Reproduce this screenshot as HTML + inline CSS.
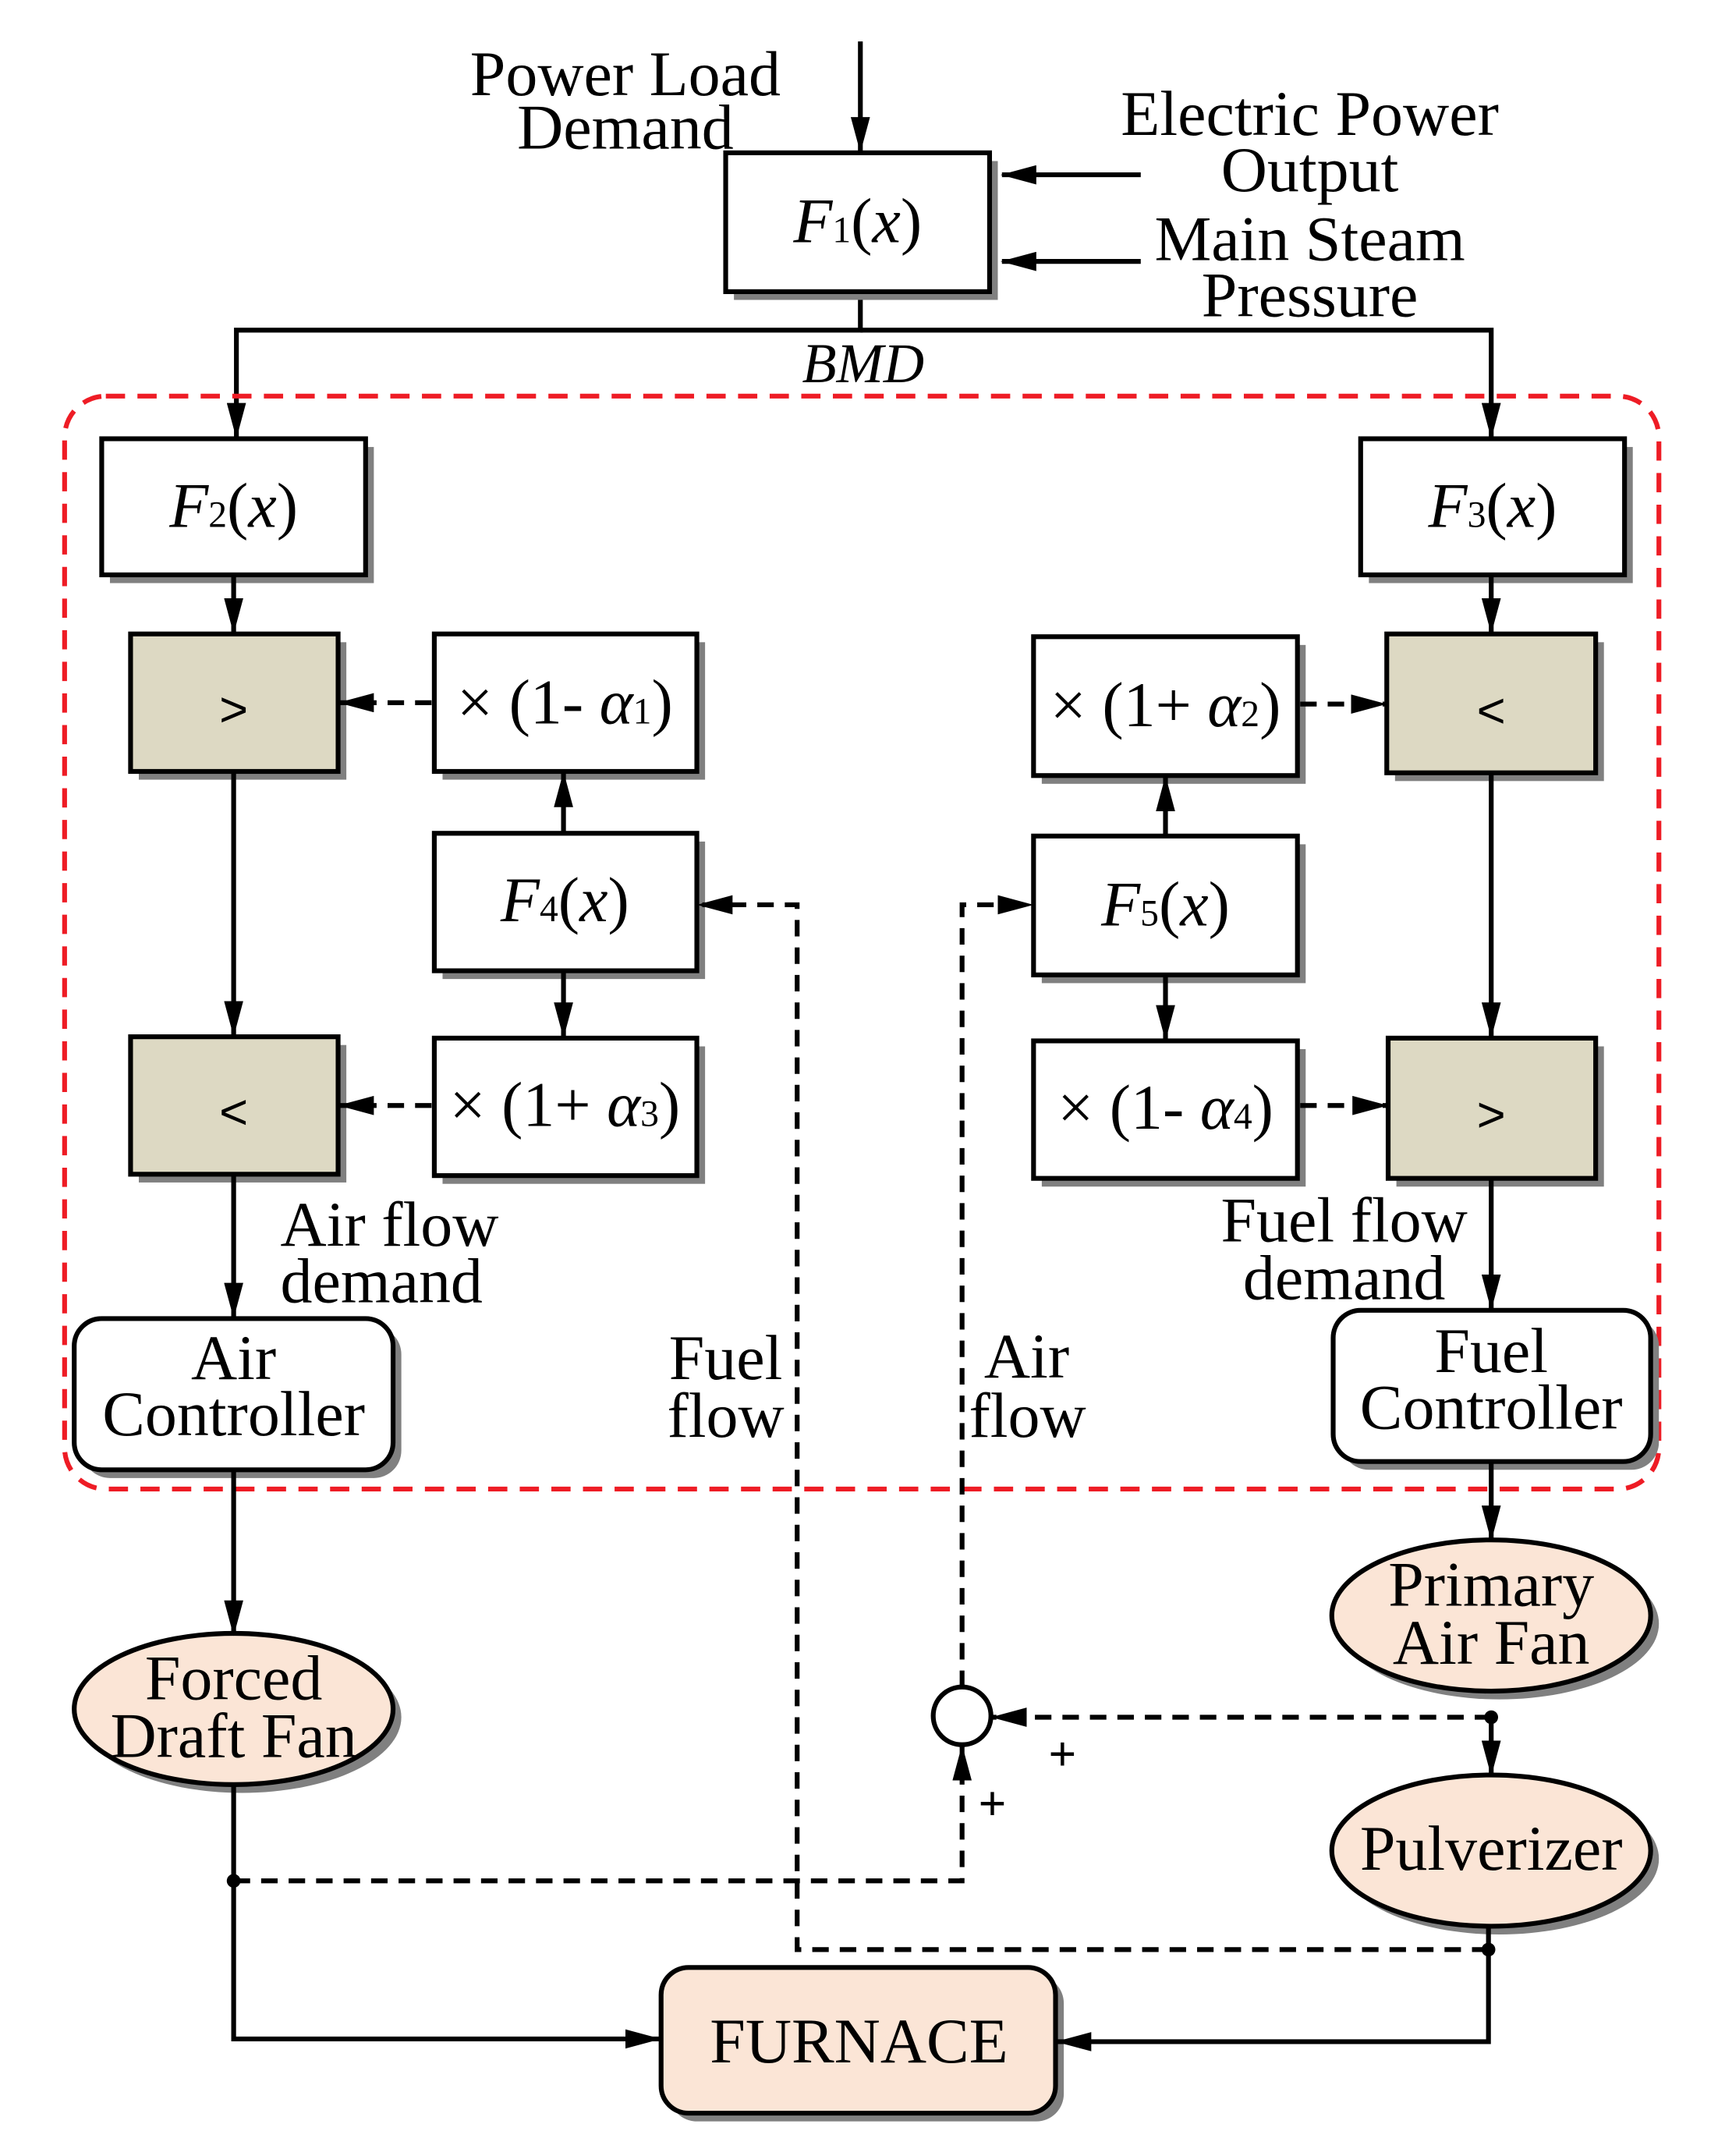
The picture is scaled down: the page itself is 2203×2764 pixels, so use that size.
<!DOCTYPE html>
<html><head><meta charset="utf-8"><style>html,body{margin:0;padding:0;background:#fff}svg{display:block}</style></head><body>
<svg width="2203" height="2764" viewBox="0 0 1250 1568" xmlns="http://www.w3.org/2000/svg" font-family="'Liberation Serif', serif">
<defs>
<marker id="b" markerWidth="26" markerHeight="14" refX="25" refY="7" orient="auto" markerUnits="userSpaceOnUse"><path d="M0,0 L26,7 L0,14 Z" fill="#000"/></marker>
</defs>
<g stroke="#000" stroke-width="3.5" fill="none">
<line x1="626" y1="30" x2="626" y2="110" marker-end="url(#b)"/>
<line x1="830" y1="127" x2="729" y2="127" marker-end="url(#b)"/>
<line x1="830" y1="190" x2="729" y2="190" marker-end="url(#b)"/>
<polyline points="626,212 626,240 172,240 172,318" marker-end="url(#b)"/>
<polyline points="626,240 1085,240 1085,318" marker-end="url(#b)"/>
</g>
<rect x="47" y="288" width="1160" height="795" rx="30" fill="none" stroke="#ee1c25" stroke-width="3.5" stroke-dasharray="14,9"/>
<g fill="#808080">
<rect x="534" y="117" width="192" height="101"/>
<rect x="80" y="325" width="192" height="99"/><rect x="996" y="325" width="192" height="99"/>
<rect x="101" y="467" width="151" height="100"/><rect x="101" y="760" width="151" height="100"/>
<rect x="1015" y="467" width="152" height="101"/><rect x="1016" y="761" width="151" height="102"/>
<rect x="322" y="467" width="191" height="100"/><rect x="322" y="612" width="191" height="100"/><rect x="322" y="761" width="191" height="100"/>
<rect x="758" y="469" width="192" height="101"/><rect x="758" y="614" width="192" height="101"/><rect x="758" y="763" width="192" height="100"/>
<rect x="60" y="965" width="232" height="110" rx="20"/><rect x="976" y="959" width="231" height="110" rx="20"/>
<ellipse cx="176" cy="1249" rx="116" ry="55"/><ellipse cx="1091" cy="1181" rx="116" ry="55"/><ellipse cx="1091" cy="1352" rx="116" ry="55"/>
<rect x="487" y="1437" width="287" height="106" rx="20"/>
</g>
<g stroke="#000" stroke-width="3.5" fill="#fff">
<rect x="528" y="111" width="192" height="101"/>
<rect x="74" y="319" width="192" height="99"/><rect x="990" y="319" width="192" height="99"/>
<rect x="316" y="461" width="191" height="100"/><rect x="316" y="606" width="191" height="100"/><rect x="316" y="755" width="191" height="100"/>
<rect x="752" y="463" width="192" height="101"/><rect x="752" y="608" width="192" height="101"/><rect x="752" y="757" width="192" height="100"/>
<rect x="54" y="959" width="232" height="110" rx="20"/><rect x="970" y="953" width="231" height="110" rx="20"/>
</g>
<g stroke="#000" stroke-width="3.5" fill="#ddd9c3">
<rect x="95" y="461" width="151" height="100"/><rect x="95" y="754" width="151" height="100"/>
<rect x="1009" y="461" width="152" height="101"/><rect x="1010" y="755" width="151" height="102"/>
</g>
<g stroke="#000" stroke-width="3.5" fill="#fbe5d6">
<ellipse cx="170" cy="1243" rx="116" ry="55"/><ellipse cx="1085" cy="1175" rx="116" ry="55"/><ellipse cx="1085" cy="1346" rx="116" ry="55"/>
<rect x="481" y="1431" width="287" height="106" rx="20"/>
</g>
<g stroke="#000" stroke-width="3.5" fill="none">
<line x1="170" y1="418" x2="170" y2="460" marker-end="url(#b)"/>
<line x1="170" y1="561" x2="170" y2="753" marker-end="url(#b)"/>
<line x1="170" y1="854" x2="170" y2="958" marker-end="url(#b)"/>
<line x1="1085" y1="418" x2="1085" y2="460" marker-end="url(#b)"/>
<line x1="1085" y1="562" x2="1085" y2="754" marker-end="url(#b)"/>
<line x1="1085" y1="857" x2="1085" y2="952" marker-end="url(#b)"/>
<line x1="410" y1="606" x2="410" y2="562" marker-end="url(#b)"/>
<line x1="410" y1="706" x2="410" y2="754" marker-end="url(#b)"/>
<line x1="848" y1="608" x2="848" y2="565" marker-end="url(#b)"/>
<line x1="848" y1="709" x2="848" y2="756" marker-end="url(#b)"/>
<line x1="170" y1="1069" x2="170" y2="1189" marker-end="url(#b)"/>
<line x1="1085" y1="1063" x2="1085" y2="1120" marker-end="url(#b)"/>
<line x1="1085" y1="1249" x2="1085" y2="1291" marker-end="url(#b)"/>
<polyline points="170,1298 170,1483 480,1483" marker-end="url(#b)"/>
<polyline points="1083,1401 1083,1485 769,1485" marker-end="url(#b)"/>
<g stroke-dasharray="12,8">
<line x1="314" y1="511" x2="247" y2="511" marker-end="url(#b)"/>
<line x1="314" y1="804" x2="247" y2="804" marker-end="url(#b)"/>
<line x1="946" y1="512" x2="1008" y2="512" marker-end="url(#b)"/>
<line x1="946" y1="804" x2="1009" y2="804" marker-end="url(#b)"/>
<line x1="1085" y1="1249" x2="722" y2="1249" marker-end="url(#b)"/>
<polyline points="170,1368 700,1368 700,1270" marker-end="url(#b)"/>
<polyline points="700,1227 700,658 751,658" marker-end="url(#b)"/>
<polyline points="1083,1418 580,1418 580,658 508,658" marker-end="url(#b)"/>
</g>
<circle cx="700" cy="1248" r="21" fill="#fff"/>
</g>
<g fill="#000"><circle cx="1085" cy="1249" r="5"/><circle cx="170" cy="1368" r="5"/><circle cx="1083" cy="1418" r="5"/></g>
<g font-size="46.5" text-anchor="middle" fill="#000">
<text x="455" y="69">Power Load</text><text x="455" y="108">Demand</text>
<text x="953" y="98">Electric Power</text><text x="953" y="139">Output</text>
<text x="953" y="189">Main Steam</text><text x="953" y="230">Pressure</text>
<text x="628" y="278" font-style="italic" font-size="41">BMD</text>
<text x="624" y="176"><tspan font-style="italic">F</tspan><tspan font-size="27">1</tspan>(<tspan font-style="italic">x</tspan>)</text>
<text x="170" y="383"><tspan font-style="italic">F</tspan><tspan font-size="27">2</tspan>(<tspan font-style="italic">x</tspan>)</text>
<text x="1086" y="383"><tspan font-style="italic">F</tspan><tspan font-size="27">3</tspan>(<tspan font-style="italic">x</tspan>)</text>
<text x="411" y="670"><tspan font-style="italic">F</tspan><tspan font-size="27">4</tspan>(<tspan font-style="italic">x</tspan>)</text>
<text x="848" y="673"><tspan font-style="italic">F</tspan><tspan font-size="27">5</tspan>(<tspan font-style="italic">x</tspan>)</text>
<text x="411" y="526">× (1- <tspan font-style="italic">α</tspan><tspan font-size="27">1</tspan>)</text>
<text x="411" y="819">× (1+ <tspan font-style="italic">α</tspan><tspan font-size="27">3</tspan>)</text>
<text x="848" y="528">× (1+ <tspan font-style="italic">α</tspan><tspan font-size="27">2</tspan>)</text>
<text x="848" y="821">× (1- <tspan font-style="italic">α</tspan><tspan font-size="27">4</tspan>)</text>
<text x="170" y="528" font-family="'Liberation Sans', sans-serif" font-size="36">&gt;</text>
<text x="170" y="821" font-family="'Liberation Sans', sans-serif" font-size="36">&lt;</text>
<text x="1085" y="529" font-family="'Liberation Sans', sans-serif" font-size="36">&lt;</text>
<text x="1085" y="823" font-family="'Liberation Sans', sans-serif" font-size="36">&gt;</text>
<text x="170" y="1003">Air</text><text x="170" y="1044">Controller</text>
<text x="1085" y="998">Fuel</text><text x="1085" y="1039">Controller</text>
<text x="978" y="903">Fuel flow</text><text x="978" y="945">demand</text>
<text x="528" y="1003">Fuel</text><text x="528" y="1045">flow</text>
<text x="170" y="1236">Forced</text><text x="170" y="1278">Draft Fan</text>
<text x="1085" y="1168">Primary</text><text x="1085" y="1210">Air Fan</text>
<text x="1085" y="1360">Pulverizer</text>
<text x="625" y="1500">FURNACE</text>
<text x="773" y="1288" font-size="36" font-weight="bold">+</text><text x="722" y="1324" font-size="36" font-weight="bold">+</text>
</g>
<g font-size="46.5" fill="#000">
<text x="204" y="906">Air flow</text><text x="204" y="947">demand</text>
<text x="716" y="1002">Air</text><text x="705" y="1045">flow</text>
</g>
</svg>
</body></html>
